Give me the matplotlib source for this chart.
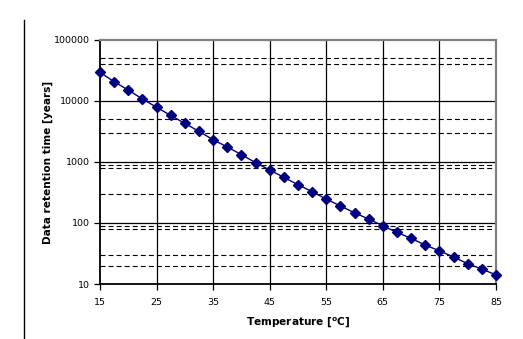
import matplotlib
matplotlib.use("Agg")
import matplotlib.pyplot as plt
from matplotlib.lines import Line2D

# Data retention time versus temperature
temperature_c = [15, 17.5, 20, 22.5, 25, 27.5, 30, 32.5, 35, 37.5, 40, 42.5, 45,
                 47.5, 50, 52.5, 55, 57.5, 60, 62.5, 65, 67.5, 70, 72.5, 75,
                 77.5, 80, 82.5, 85]
retention_years = [29500, 20700, 15100, 10800, 7900, 5800, 4300, 3170, 2320,
                   1760, 1320, 975, 740, 560, 425, 326, 247, 190, 147, 116,
                   90, 70, 56, 43.5, 35, 27.7, 21.5, 17.6, 14.1]

x_ticks = [15, 25, 35, 45, 55, 65, 75, 85]
y_ticks = [10, 100, 1000, 10000, 100000]
y_tick_labels = ["10", "100", "1000", "10000", "100000"]
dashed_levels = [20, 30, 80, 90, 300, 800, 900, 3000, 5000, 40000, 50000]

plt.rcParams["font.family"] = ["DejaVu Sans"]
plt.rcParams["lines.scale_dashes"] = False

fig = plt.figure(figsize=(5.23, 3.39), dpi=100)
ax = fig.add_axes([100 / 523, 55 / 339, 396 / 523, 244 / 339])

ax.set_yscale("log")
ax.set_xlim(15, 85)
ax.set_ylim(10, 100000)

# Grid: solid decades and verticals, dashed reference levels
for xv in x_ticks[1:-1]:
    ax.axvline(xv, color="black", lw=0.9, zorder=1)
for yv in y_ticks[1:-1]:
    ax.axhline(yv, color="black", lw=0.9, zorder=1)
for yv in dashed_levels:
    ax.axhline(yv, color="black", lw=0.8, dashes=(3.6, 2.2), zorder=1)

ax.plot(temperature_c, retention_years, color="#000080", lw=1.0,
        marker="D", markersize=4.6, markerfacecolor="#000080",
        markeredgecolor="#000080", zorder=3, clip_on=False)

ax.set_xticks(x_ticks)
ax.set_xticklabels([str(t) for t in x_ticks])
ax.set_yticks(y_ticks)
ax.set_yticklabels(y_tick_labels)
ax.yaxis.set_minor_locator(matplotlib.ticker.NullLocator())
ax.tick_params(axis="both", direction="out", length=4, width=0.9,
               labelsize=6.8, colors="black")
ax.tick_params(axis="x", pad=6)
ax.tick_params(axis="y", pad=3)

for side in ("left", "bottom"):
    ax.spines[side].set_color("black")
    ax.spines[side].set_linewidth(1.3)
for side in ("top", "right"):
    ax.spines[side].set_color("#808080")
    ax.spines[side].set_linewidth(1.6)

ax.set_ylabel("Data retention time [years]", fontsize=7.6, fontweight="bold",
              labelpad=1)
ax.set_xlabel(r"Temperature [$\mathbf{^{o}}$C]", fontsize=7.6,
              fontweight="bold", labelpad=6)

# Vertical rule along the left edge of the figure
fig.add_artist(Line2D([23.5 / 523, 23.5 / 523], [0, 319 / 339],
                      transform=fig.transFigure, color="black", lw=1.0))

fig.savefig("out.png", dpi=100)
